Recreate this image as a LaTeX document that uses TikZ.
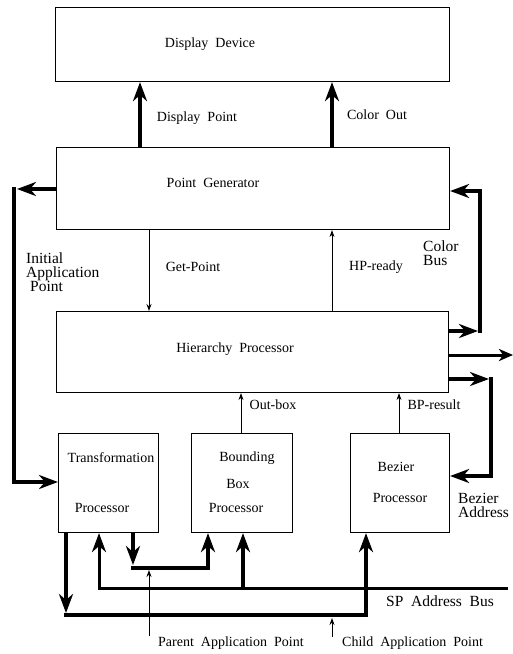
\documentclass[tikz,border=0pt]{standalone}
\usepackage{fontspec}
\setmainfont{Liberation Serif}[WordSpace=2]
\usetikzlibrary{arrows.meta}
\begin{document}
\begin{tikzpicture}[x=1pt,y=-1pt,
  box/.style={draw, line width=1.1pt, inner sep=0pt, anchor=north west},
  lbl/.style={font=\fontsize{14}{16}\selectfont, inner sep=0pt},
  big/.style={font=\fontsize{15.5}{14}\selectfont, inner sep=0pt, align=left},
  bus/.style={line width=4pt, line join=miter},
  mbus/.style={line width=3pt},
  ba/.style={-{Stealth[length=19pt,width=14pt,inset=6pt]}},
  ma/.style={-{Stealth[length=14pt,width=12pt,inset=4pt]}},
  sig/.style={line width=0.9pt, -{Stealth[length=7pt,width=5pt]}}
]
\useasboundingbox (0,0) rectangle (513,654);
% boxes
\node[box, minimum width=394pt, minimum height=74pt] (dd) at (55,7) {};
\node[box, minimum width=393pt, minimum height=82pt] (pg) at (56,147) {};
\node[box, minimum width=392pt, minimum height=81pt] (hp) at (56,311) {};
\node[box, minimum width=100pt, minimum height=99pt] (tp) at (58,433) {};
\node[box, minimum width=101pt, minimum height=99pt] (bb) at (191,433) {};
\node[box, minimum width=99pt, minimum height=99pt] (bz) at (350,433) {};
% box texts
\node[lbl] (tdd) at (210,44) {Display Device};
\node[lbl] (tpg) at (213,183) {Point Generator};
\node[lbl] (thp) at (235,349) {Hierarchy Processor};
\node[lbl] (ttp1) at (111,458) {Transformation};
\node[lbl] (ttp2) at (102,508) {Processor};
\node[lbl] (tbb1) at (247,458) {Bounding};
\node[lbl] (tbb2) at (238,484) {Box};
\node[lbl] (tbb3) at (236,508) {Processor};
\node[lbl] (tbz1) at (396,467) {Bezier};
\node[lbl] (tbz2) at (400,498) {Processor};
% coordinates
\coordinate (kDP) at (140,0);
\coordinate (kCO) at (332,0);
\coordinate (kGP) at (149,0);
\coordinate (kHR) at (332,0);
\coordinate (kOB) at (241,0);
\coordinate (kBR) at (399,0);
\coordinate (kIArow) at (0,189);
\coordinate (kIAt) at (17,189);
\coordinate (kIAtop) at (14,187);
\coordinate (kIAb) at (14,482);
\coordinate (kCBrow) at (0,331);
\coordinate (kCBt) at (478,331);
\coordinate (kCBbot) at (480,333);
\coordinate (kCBtop) at (480,191);
\coordinate (kOutrow) at (0,355);
\coordinate (kOut) at (513,355);
\coordinate (kBArow) at (0,379);
\coordinate (kBAt) at (489,379);
\coordinate (kBAtop) at (491,377);
\coordinate (kBAb) at (491,476);
\coordinate (kTD) at (66,0);
\coordinate (kTDt) at (66,613);
\coordinate (kL0) at (64,615);
\coordinate (kL1) at (366,615);
\coordinate (kSP0) at (508,588);
\coordinate (kSP1) at (99,588);
\coordinate (kSP2) at (243,588);
\coordinate (kPD) at (133,0);
\coordinate (kPDt) at (133,565);
\coordinate (kP1) at (131,568);
\coordinate (kP2) at (208,568);
\coordinate (kPar) at (149,636);
\coordinate (kPar2) at (149,570);
\coordinate (kChd) at (332,637);
\coordinate (kChd2) at (332,618);
% top connectors
\draw[bus,ba] (kDP |- pg.north) -- (kDP |- dd.south);
\draw[bus,ba] (kCO |- pg.north) -- (kCO |- dd.south);
\draw[sig] (kGP |- pg.south) -- (kGP |- hp.north);
\draw[sig] (kHR |- hp.north) -- (kHR |- pg.south);
\draw[sig] (kOB |- bb.north) -- (kOB |- hp.south);
\draw[sig] (kBR |- bz.north) -- (kBR |- hp.south);
% initial application point
\draw[bus,ba] (pg.west |- kIArow) -- (kIAt);
\draw[bus,ba] (kIAtop) -- (kIAb) -- (tp.west |- kIAb);
% color bus
\draw[bus,ba] (hp.east |- kCBrow) -- (kCBt);
\draw[bus,ba] (kCBbot) -- (kCBtop) -- (pg.east |- kCBtop);
% middle output
\draw[mbus,ma] (hp.east |- kOutrow) -- (kOut);
% bezier address
\draw[bus,ba] (hp.east |- kBArow) -- (kBAt);
\draw[bus,ba] (kBAtop) -- (kBAb) -- (bz.east |- kBAb);
% bottom buses
\draw[bus,ba] (kTD |- tp.south) -- (kTDt);
\draw[bus,ba] (kL0) -- (kL1) -- (kL1 |- bz.south);
\draw[mbus,ba] (kSP0) -- (kSP1) -- (kSP1 |- tp.south);
\draw[bus,ba] (kSP2) -- (kSP2 |- bb.south);
\draw[bus,ba] (kPD |- tp.south) -- (kPDt);
\draw[bus,ba] (kP1) -- (kP2) -- (kP2 |- bb.south);
\draw[sig] (kPar) -- (kPar2);
\draw[sig] (kChd) -- (kChd2);
% labels
\node[lbl] (lDP) at (197,118) {Display Point};
\node[lbl] (lCO) at (377,115) {Color Out};
\node[lbl] (lGP) at (193,267) {Get-Point};
\node[lbl] (lHR) at (376,267) {HP-ready};
\node[big, anchor=west] (lIA) at (26,272) {Initial\\Application\\\hspace*{4pt}Point};
\node[big, anchor=west] (lCB) at (423,253) {Color\\Bus};
\node[big, anchor=west] (lBA) at (458,505) {Bezier\\Address};
\node[big] (lSP) at (440,601) {SP Address Bus};
\node[lbl] (lOB) at (273,405) {Out-box};
\node[lbl] (lBR) at (434,405) {BP-result};
\node[lbl, anchor=west] (lPar) at (158,643) {Parent Application Point};
\node[lbl, anchor=west] (lChd) at (342,643) {Child Application Point};
\end{tikzpicture}
\end{document}
